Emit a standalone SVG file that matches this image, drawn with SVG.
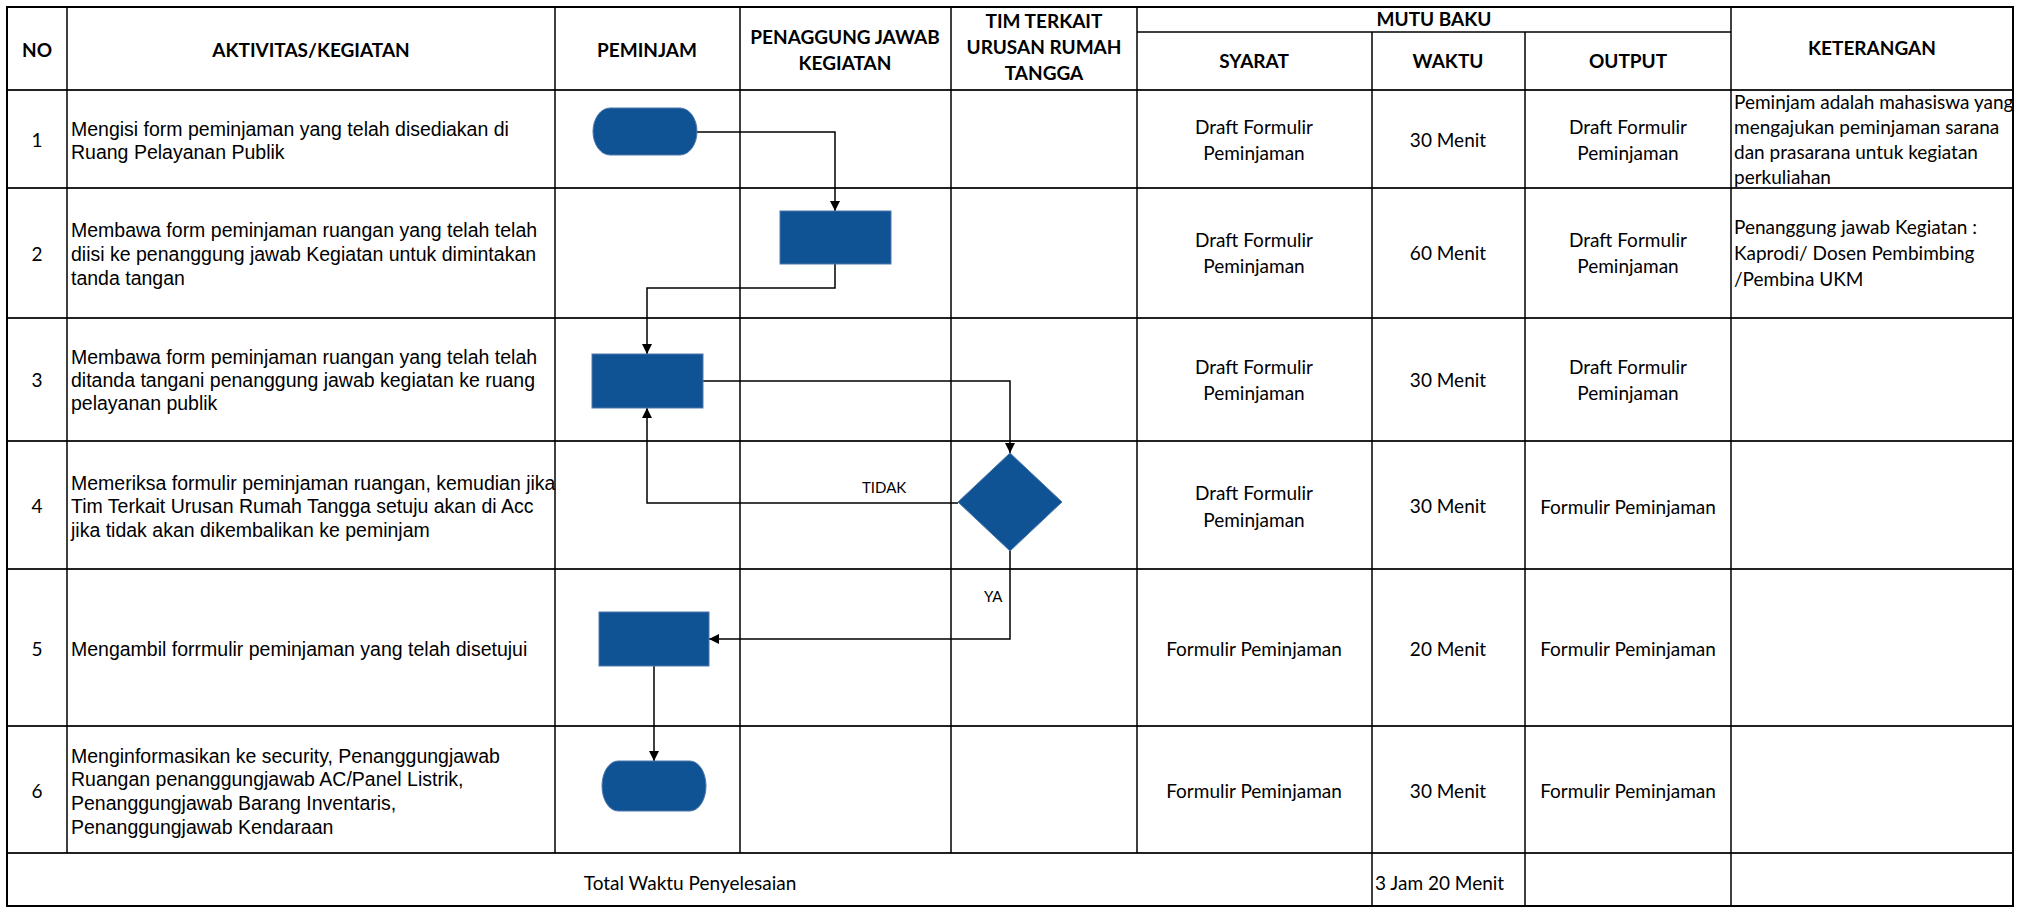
<svg xmlns="http://www.w3.org/2000/svg" width="2021" height="908" viewBox="0 0 2021 908">
<defs>
<style>
.grid{stroke:#000;stroke-width:1.5;fill:none}
.hrow{stroke:#222;stroke-width:2.2;fill:none}
.border{stroke:#000;stroke-width:2;fill:none}
.hd{font-family:Lato,"Liberation Sans",sans-serif;font-weight:bold;font-size:19px;fill:#000;text-anchor:middle}
.cal{font-family:Lato,"Liberation Sans",sans-serif;font-size:19px;fill:#000}
.mid{text-anchor:middle}
.ar{font-family:"Liberation Sans",Arial,sans-serif;font-size:19.5px;fill:#000}
.lbl{font-family:Lato,"Liberation Sans",sans-serif;font-size:15px;fill:#000}
.shape{fill:#105394;stroke:#4d78ad;stroke-width:1}
.conn{stroke:#000;stroke-width:1.5;fill:none;marker-end:url(#arr)}
</style>
<marker id="arr" viewBox="0 0 10 10" refX="10" refY="5" markerWidth="10" markerHeight="10" markerUnits="userSpaceOnUse" orient="auto">
<path d="M0,0 L10,5 L0,10 z" fill="#000"/>
</marker>
</defs>
<rect width="2021" height="908" fill="#fff"/>

<g id="table">
<g id="grid-lines">
<line class="hrow" x1="7" y1="90" x2="2013" y2="90"/>
<line class="hrow" x1="7" y1="188" x2="2013" y2="188"/>
<line class="hrow" x1="7" y1="318" x2="2013" y2="318"/>
<line class="hrow" x1="7" y1="441" x2="2013" y2="441"/>
<line class="hrow" x1="7" y1="569" x2="2013" y2="569"/>
<line class="hrow" x1="7" y1="726" x2="2013" y2="726"/>
<line class="hrow" x1="7" y1="853" x2="2013" y2="853"/>
<line class="grid" x1="1137" y1="32" x2="1731" y2="32"/>
<line class="grid" x1="67" y1="7" x2="67" y2="853"/>
<line class="grid" x1="555" y1="7" x2="555" y2="853"/>
<line class="grid" x1="740" y1="7" x2="740" y2="853"/>
<line class="grid" x1="951" y1="7" x2="951" y2="853"/>
<line class="grid" x1="1137" y1="7" x2="1137" y2="853"/>
<line class="grid" x1="1372" y1="32" x2="1372" y2="906"/>
<line class="grid" x1="1525" y1="32" x2="1525" y2="906"/>
<line class="grid" x1="1731" y1="7" x2="1731" y2="906"/>
<rect class="border" x="7" y="7" width="2006" height="899"/>
</g>

<g id="header">
<text class="hd" x="37" y="57">NO</text>
<text class="hd" x="311" y="57">AKTIVITAS/KEGIATAN</text>
<text class="hd" x="647" y="57">PEMINJAM</text>
<text class="hd" x="845" y="44">PENAGGUNG JAWAB</text>
<text class="hd" x="845" y="70">KEGIATAN</text>
<text class="hd" x="1044" y="28">TIM TERKAIT</text>
<text class="hd" x="1044" y="54">URUSAN RUMAH</text>
<text class="hd" x="1044" y="80">TANGGA</text>
<text class="hd" x="1434" y="26">MUTU BAKU</text>
<text class="hd" x="1254" y="68">SYARAT</text>
<text class="hd" x="1448" y="68">WAKTU</text>
<text class="hd" x="1628" y="68">OUTPUT</text>
<text class="hd" x="1872" y="55">KETERANGAN</text>
</g>

<g id="row1">
<text class="cal mid" x="37" y="147">1</text>
<text class="ar" x="71" y="136">Mengisi form peminjaman yang telah disediakan di</text>
<text class="ar" x="71" y="159">Ruang Pelayanan Publik</text>
<text class="cal mid" x="1254" y="134">Draft Formulir</text>
<text class="cal mid" x="1254" y="160">Peminjaman</text>
<text class="cal mid" x="1448" y="147">30 Menit</text>
<text class="cal mid" x="1628" y="134">Draft Formulir</text>
<text class="cal mid" x="1628" y="160">Peminjaman</text>
<text class="cal" x="1734" y="109">Peminjam adalah mahasiswa yang</text>
<text class="cal" x="1734" y="134">mengajukan peminjaman sarana</text>
<text class="cal" x="1734" y="159">dan prasarana untuk kegiatan</text>
<text class="cal" x="1734" y="184">perkuliahan</text>
</g>

<g id="row2">
<text class="cal mid" x="37" y="261">2</text>
<text class="ar" x="71" y="237">Membawa form peminjaman ruangan yang telah telah</text>
<text class="ar" x="71" y="261">diisi ke penanggung jawab Kegiatan  untuk dimintakan</text>
<text class="ar" x="71" y="285">tanda tangan</text>
<text class="cal mid" x="1254" y="247">Draft Formulir</text>
<text class="cal mid" x="1254" y="273">Peminjaman</text>
<text class="cal mid" x="1448" y="260">60 Menit</text>
<text class="cal mid" x="1628" y="247">Draft Formulir</text>
<text class="cal mid" x="1628" y="273">Peminjaman</text>
<text class="cal" x="1734" y="234">Penanggung jawab Kegiatan :</text>
<text class="cal" x="1734" y="260">Kaprodi/ Dosen Pembimbing</text>
<text class="cal" x="1734" y="286">/Pembina UKM</text>
</g>

<g id="row3">
<text class="cal mid" x="37" y="387">3</text>
<text class="ar" x="71" y="364">Membawa form peminjaman ruangan yang telah telah</text>
<text class="ar" x="71" y="387">ditanda tangani penanggung jawab kegiatan ke ruang</text>
<text class="ar" x="71" y="410">pelayanan publik</text>
<text class="cal mid" x="1254" y="374">Draft Formulir</text>
<text class="cal mid" x="1254" y="400">Peminjaman</text>
<text class="cal mid" x="1448" y="387">30 Menit</text>
<text class="cal mid" x="1628" y="374">Draft Formulir</text>
<text class="cal mid" x="1628" y="400">Peminjaman</text>
</g>

<g id="row4">
<text class="cal mid" x="37" y="513">4</text>
<text class="ar" x="71" y="490">Memeriksa formulir peminjaman ruangan, kemudian jika</text>
<text class="ar" x="71" y="513">Tim Terkait Urusan Rumah Tangga setuju akan di Acc</text>
<text class="ar" x="71" y="537">jika tidak akan dikembalikan ke peminjam</text>
<text class="cal mid" x="1254" y="500">Draft Formulir</text>
<text class="cal mid" x="1254" y="527">Peminjaman</text>
<text class="cal mid" x="1448" y="513">30 Menit</text>
<text class="cal mid" x="1628" y="514">Formulir Peminjaman</text>
</g>

<g id="row5">
<text class="cal mid" x="37" y="656">5</text>
<text class="ar" x="71" y="656">Mengambil forrmulir peminjaman yang telah disetujui</text>
<text class="cal mid" x="1254" y="656">Formulir Peminjaman</text>
<text class="cal mid" x="1448" y="656">20 Menit</text>
<text class="cal mid" x="1628" y="656">Formulir Peminjaman</text>
</g>

<g id="row6">
<text class="cal mid" x="37" y="798">6</text>
<text class="ar" x="71" y="763">Menginformasikan ke security, Penanggungjawab</text>
<text class="ar" x="71" y="786">Ruangan penanggungjawab AC/Panel Listrik,</text>
<text class="ar" x="71" y="810">Penanggungjawab Barang Inventaris,</text>
<text class="ar" x="71" y="834">Penanggungjawab Kendaraan</text>
<text class="cal mid" x="1254" y="798">Formulir Peminjaman</text>
<text class="cal mid" x="1448" y="798">30 Menit</text>
<text class="cal mid" x="1628" y="798">Formulir Peminjaman</text>
</g>

<g id="total-row">
<text class="cal mid" x="690" y="890">Total Waktu Penyelesaian</text>
<text class="cal" x="1375" y="890">3 Jam 20 Menit</text>
</g>
</g>

<g id="connectors">
<polyline class="conn" points="697,132 835,132 835,211"/>
<polyline class="conn" points="835,264 835,288 647,288 647,354"/>
<polyline class="conn" points="703,381 1010,381 1010,453"/>
<polyline class="conn" points="958,503 647,503 647,408"/>
<polyline class="conn" points="1010,551 1010,639 709,639"/>
<polyline class="conn" points="654,666 654,761"/>
<text class="lbl" x="862" y="493">TIDAK</text>
<text class="lbl" x="984" y="602">YA</text>
</g>

<g id="node-start">
<path class="shape" d="M610,108 L680,108 A17,23.5 0 0 1 680,155 L610,155 A17,23.5 0 0 1 610,108 Z"/>
</g>
<g id="node-step2">
<rect class="shape" x="780" y="211" width="111" height="53"/>
</g>
<g id="node-step3">
<rect class="shape" x="592" y="354" width="111" height="54"/>
</g>
<g id="node-decision">
<polygon class="shape" points="1010,453 1062,502 1010,551 958,502"/>
</g>
<g id="node-step5">
<rect class="shape" x="599" y="612" width="110" height="54"/>
</g>
<g id="node-end">
<path class="shape" d="M618,761 L690,761 A16,25 0 0 1 690,811 L618,811 A16,25 0 0 1 618,761 Z"/>
</g>
</svg>
